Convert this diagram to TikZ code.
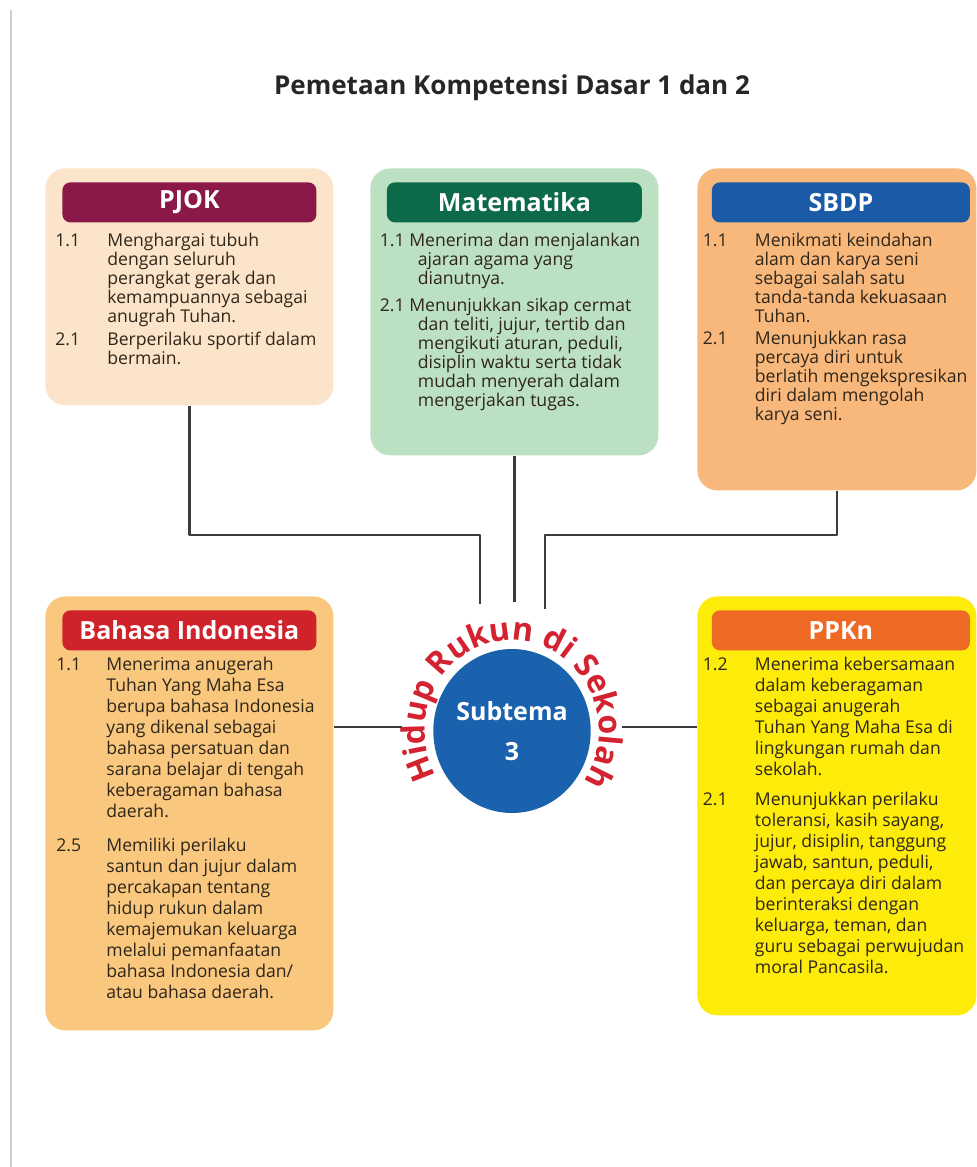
\documentclass[tikz,border=0pt]{standalone}
\usepackage{fontspec}
\setmainfont{Open Sans}
\usetikzlibrary{positioning,shapes.geometric,decorations.text}

\definecolor{pjokbg}{HTML}{FCE4CA}
\definecolor{pjokhd}{HTML}{8A1848}
\definecolor{mtkbg}{HTML}{BCE0C2}
\definecolor{mtkhd}{HTML}{0D6A48}
\definecolor{sbdpbg}{HTML}{F8B87C}
\definecolor{sbdphd}{HTML}{1A5AA6}
\definecolor{bindobg}{HTML}{F9C77E}
\definecolor{bindohd}{HTML}{D0222B}
\definecolor{ppknbg}{HTML}{FDEB0A}
\definecolor{ppknhd}{HTML}{EE6A24}
\definecolor{birutengah}{HTML}{1A62AD}
\definecolor{merahbusur}{HTML}{D32230}
\definecolor{teks}{HTML}{2F261A}
\definecolor{garisabu}{HTML}{3C3C3C}
\definecolor{abutepi}{HTML}{CFCFCF}

\begin{document}
\begin{tikzpicture}[x=0.5pt, y=0.5pt, line join=round,
    kotak/.style={anchor=north west, rounded corners=10pt, inner sep=0pt},
    pita/.style={rounded corners=4pt, minimum height=20pt, inner sep=0pt,
      text=white, font=\fontsize{12.5}{12.5}\selectfont\bfseries},
    isi/.style={anchor=north west, inner sep=0pt, text=teks,
      font=\fontsize{8.8}{9.4}\selectfont},
    isilebar/.style={isi, font=\fontsize{8.8}{10.5}\selectfont},
    garis/.style={draw=garisabu, line width=1.2pt}]

  % 1. batas gambar dan garis tepi kiri
  \useasboundingbox (0,0) rectangle (977,-1167);
  \draw[abutepi, line width=1pt] (11,-10) -- (11,-1167);

  % 2. judul
  \node[font=\fontsize{13}{13}\selectfont\bfseries, text=black!85] (judul) at (512,-88)
    {Pemetaan Kompetensi Dasar 1 dan 2};

  % 3. kotak PJOK
  \node[kotak, fill=pjokbg, minimum width=144pt, minimum height=118.5pt] (pjok) at (45,-168) {};
  \node[pita, fill=pjokhd, minimum width=127pt, below=7pt of pjok.north] (pjokhd) {PJOK};
  \node[isi, xshift=-3.5pt, yshift=-5pt] (pjokisi) at (pjokhd.south west) {%
    \begin{tabular}{@{}p{26pt}@{}l@{}}
      1.1 & Menghargai tubuh\\
          & dengan seluruh\\
          & perangkat gerak dan\\
          & kemampuannya sebagai\\
          & anugrah Tuhan.\\[1.7pt]
      2.1 & Berperilaku sportif dalam\\
          & bermain.
    \end{tabular}};

  % 4. kotak Matematika
  \node[kotak, fill=mtkbg, minimum width=144pt, minimum height=143.5pt] (mtk) at (370,-168) {};
  \node[pita, fill=mtkhd, minimum width=127.5pt, below=7pt of mtk.north] (mtkhd) {Matematika};
  \node[isi, xshift=-3.5pt, yshift=-5pt] (mtkisi) at (mtkhd.south west) {%
    \begin{tabular}{@{}p{19pt}@{}l@{}}
      \multicolumn{2}{@{}l@{}}{1.1 Menerima dan menjalankan}\\
          & ajaran agama yang\\
          & dianutnya.\\[4pt]
      \multicolumn{2}{@{}l@{}}{2.1 Menunjukkan sikap cermat}\\
          & dan teliti, jujur, tertib dan\\
          & mengikuti aturan, peduli,\\
          & disiplin waktu serta tidak\\
          & mudah menyerah dalam\\
          & mengerjakan tugas.
    \end{tabular}};

  % 5. kotak SBDP
  \node[kotak, fill=sbdpbg, minimum width=139.5pt, minimum height=161pt] (sbdp) at (697,-168) {};
  \node[pita, fill=sbdphd, minimum width=129pt, below=7pt of sbdp.north, xshift=2pt] (sbdphd) {SBDP};
  \node[isi, xshift=-4.5pt, yshift=-5pt] (sbdpisi) at (sbdphd.south west) {%
    \begin{tabular}{@{}p{26pt}@{}l@{}}
      1.1 & Menikmati keindahan\\
          & alam dan karya seni\\
          & sebagai salah satu\\
          & tanda-tanda kekuasaan\\
          & Tuhan.\\[1.6pt]
      2.1 & Menunjukkan rasa\\
          & percaya diri untuk\\
          & berlatih mengekspresikan\\
          & diri dalam mengolah\\
          & karya seni.
    \end{tabular}};

  % 6. kotak Bahasa Indonesia
  \node[kotak, fill=bindobg, minimum width=144pt, minimum height=217pt] (bindo) at (45,-596) {};
  \node[pita, fill=bindohd, minimum width=127pt, below=7pt of bindo.north] (bindohd) {Bahasa Indonesia};
  \node[isilebar, xshift=-3pt, yshift=-2.5pt] (bindoisi) at (bindohd.south west) {%
    \begin{tabular}{@{}p{25pt}@{}l@{}}
      1.1 & Menerima anugerah\\
          & Tuhan Yang Maha Esa\\
          & berupa bahasa Indonesia\\
          & yang dikenal sebagai\\
          & bahasa persatuan dan\\
          & sarana belajar di tengah\\
          & keberagaman bahasa\\
          & daerah.\\[6.5pt]
      2.5 & Memiliki perilaku\\
          & santun dan jujur dalam\\
          & percakapan tentang\\
          & hidup rukun dalam\\
          & kemajemukan keluarga\\
          & melalui pemanfaatan\\
          & bahasa Indonesia dan/\\
          & atau bahasa daerah.
    \end{tabular}};

  % 7. kotak PPKn
  \node[kotak, fill=ppknbg, minimum width=139.5pt, minimum height=209.5pt] (ppkn) at (697,-596) {};
  \node[pita, fill=ppknhd, minimum width=129pt, below=7pt of ppkn.north, xshift=2pt] (ppknhd) {PPKn};
  \node[isilebar, xshift=-4.5pt, yshift=-2.5pt] (ppknisi) at (ppknhd.south west) {%
    \begin{tabular}{@{}p{26pt}@{}l@{}}
      1.2 & Menerima kebersamaan\\
          & dalam keberagaman\\
          & sebagai anugerah\\
          & Tuhan Yang Maha Esa di\\
          & lingkungan rumah dan\\
          & sekolah.\\[4.5pt]
      2.1 & Menunjukkan perilaku\\
          & toleransi, kasih sayang,\\
          & jujur, disiplin, tanggung\\
          & jawab, santun, peduli,\\
          & dan percaya diri dalam\\
          & berinteraksi dengan\\
          & keluarga, teman, dan\\
          & guru sebagai perwujudan\\
          & moral Pancasila.
    \end{tabular}};

  % 8. lingkaran subtema dan tulisan melengkung
  \node[ellipse, fill=birutengah, minimum width=78pt, minimum height=82pt, inner sep=0pt,
    text=white, align=center, font=\fontsize{12.5}{20}\selectfont\bfseries] (subtema) at (512,-731)
    {Subtema\\3};
  \path[decorate, decoration={text along path, text align=fit to path, text color=merahbusur,
      text={|\fontsize{16}{16}\selectfont\bfseries|Hidup Rukun di Sekolah}}]
    (subtema.center) ++(210:43.5pt and 45.5pt) arc[start angle=210, end angle=-34, x radius=43.5pt, y radius=45.5pt];

  % 9. garis penghubung
  \coordinate (tekukKiri) at (480,-535);
  \coordinate (ujungKiri) at (480,-604);
  \coordinate (ujungTengah) at (512,-602);
  \coordinate (tekukKanan) at (545,-535);
  \coordinate (ujungKanan) at (545,-609);
  \coordinate (ujungBarat) at (402,-727);
  \coordinate (ujungTimur) at (622,-727);

  \draw[garis] (pjok.south) |- (tekukKiri) -- (ujungKiri);
  \draw[garis] (mtk.south) -- (mtk.south |- ujungTengah);
  \draw[garis] (sbdp.south) |- (tekukKanan) -- (ujungKanan);
  \draw[garis] (bindo.east |- ujungBarat) -- (ujungBarat);
  \draw[garis] (ujungTimur) -- (ppkn.west |- ujungTimur);
\end{tikzpicture}
\end{document}
